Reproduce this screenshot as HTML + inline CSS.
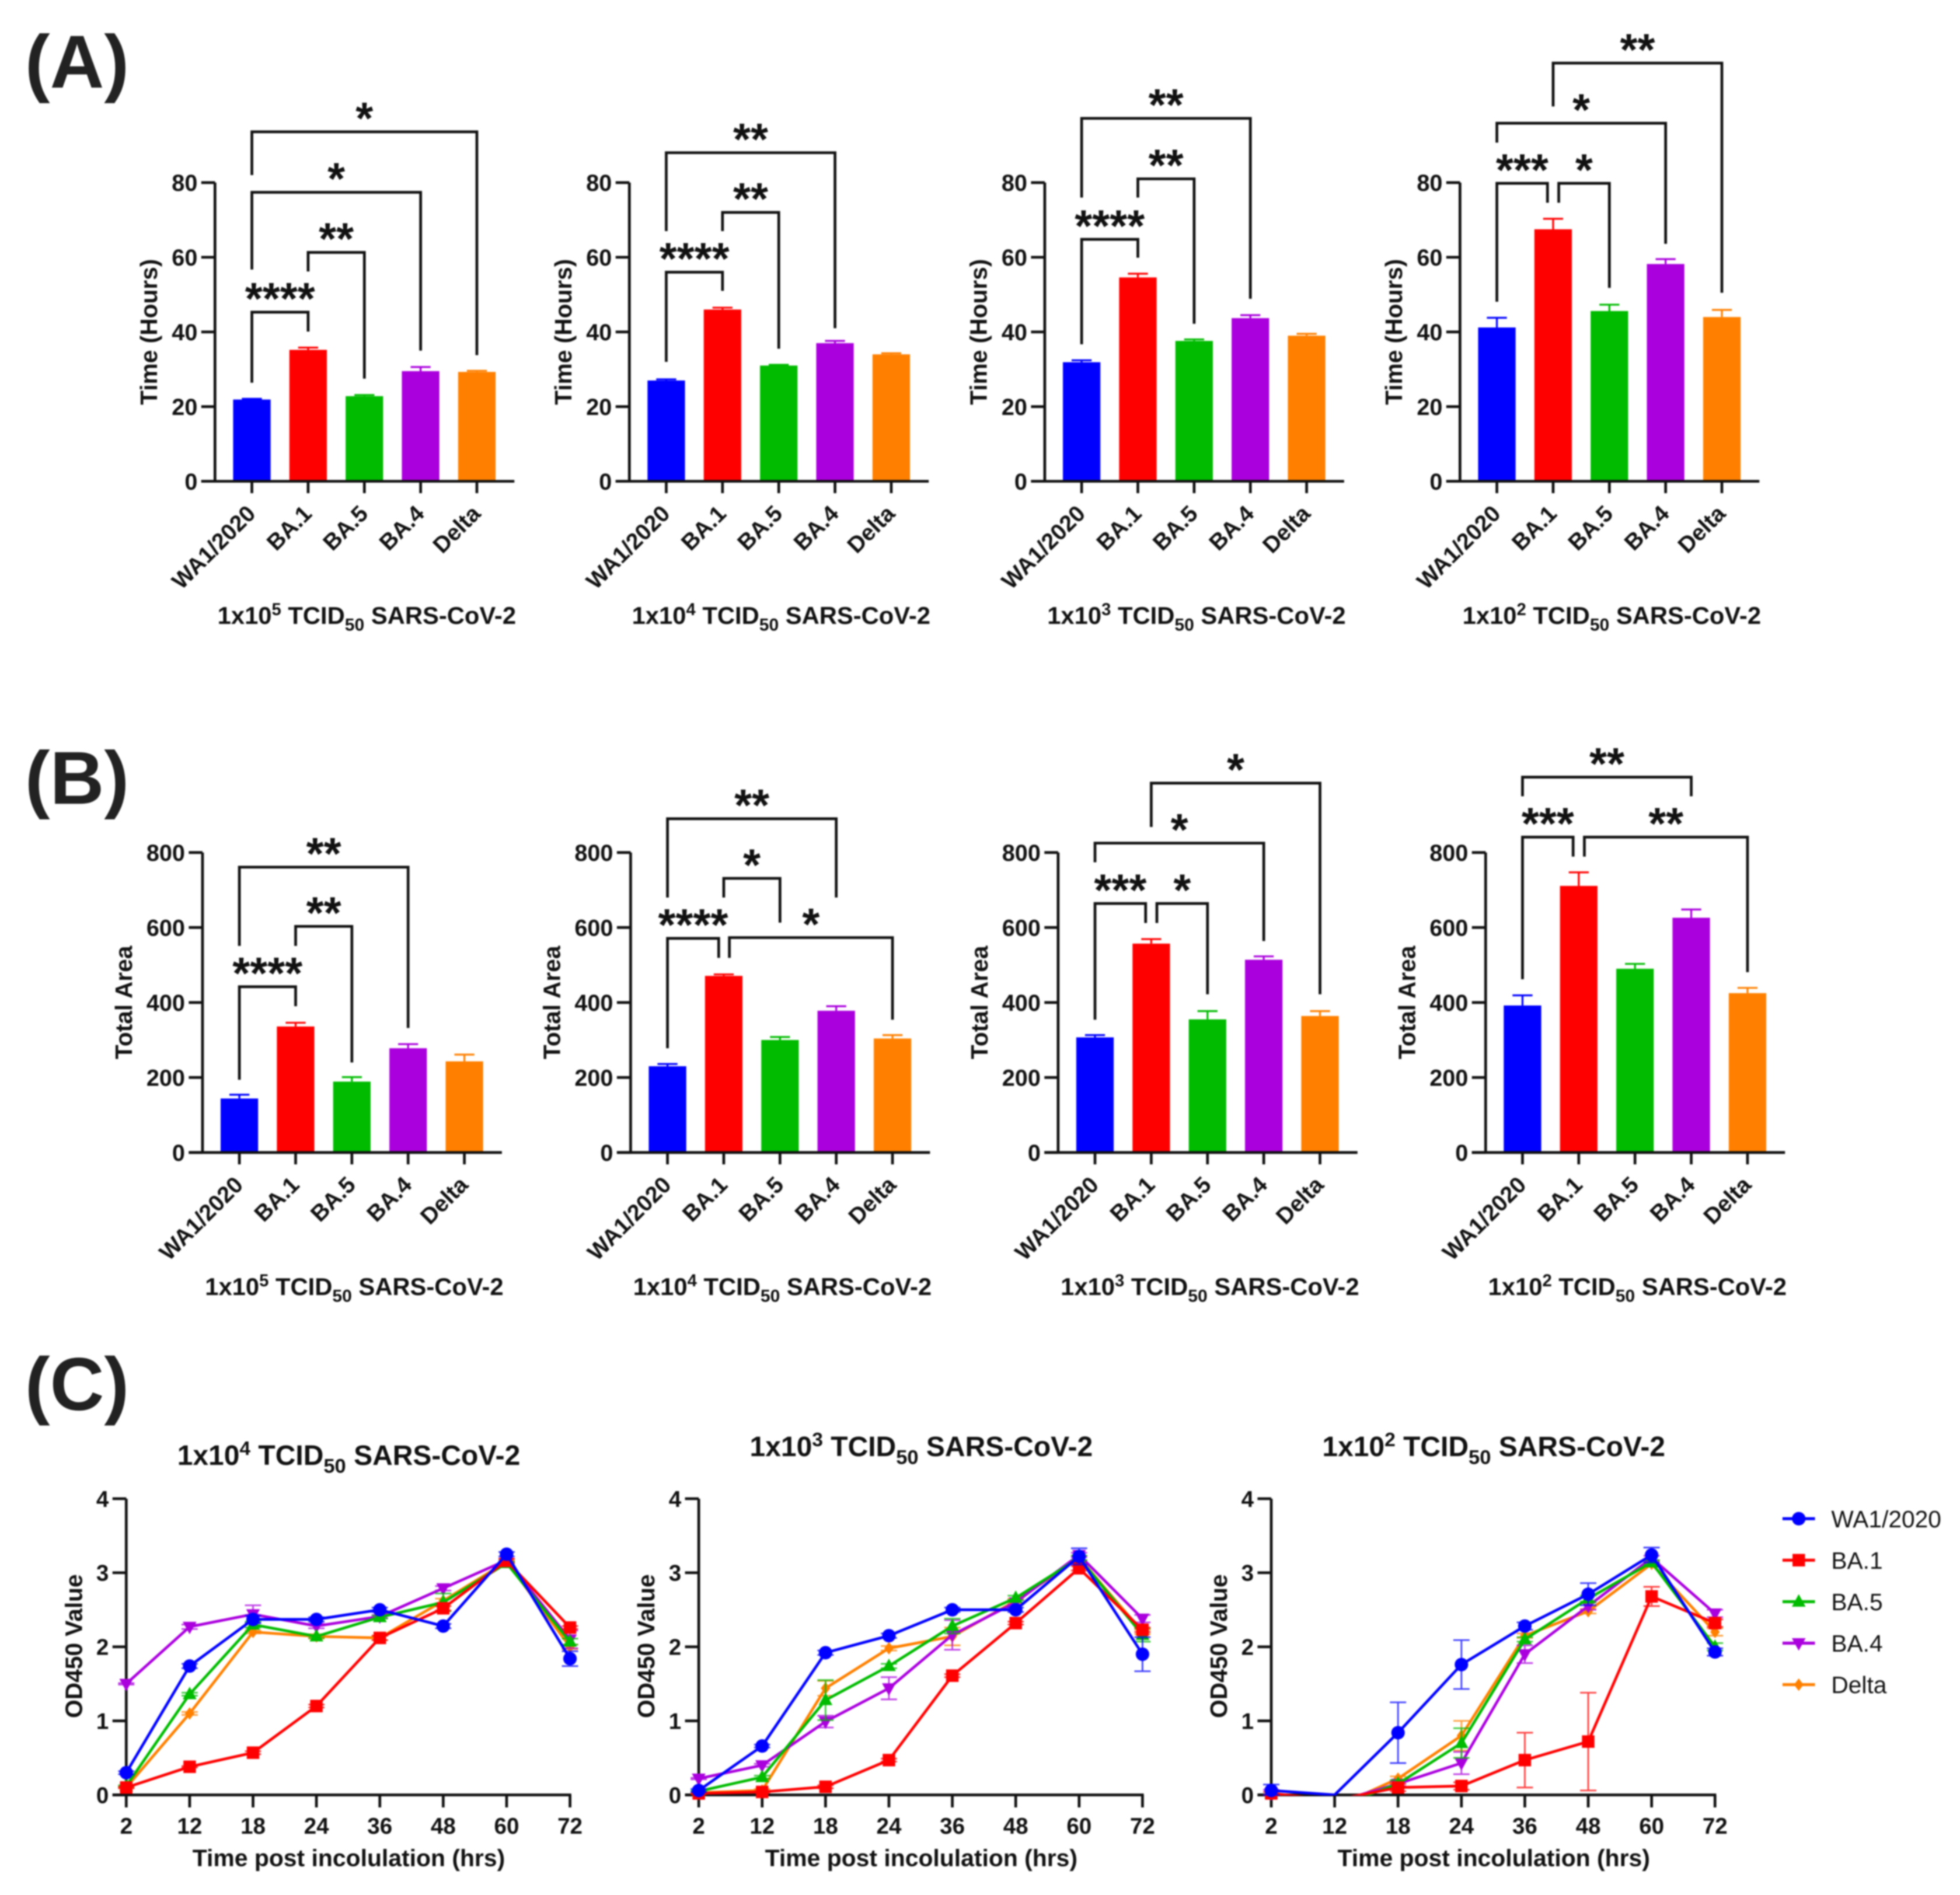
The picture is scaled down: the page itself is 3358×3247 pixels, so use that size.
<!DOCTYPE html>
<html lang="en">
<head>
<meta charset="utf-8">
<title>SARS-CoV-2 variant comparison figure</title>
<style>
html,body{margin:0;padding:0;background:#fff;width:3358px;height:3247px;overflow:hidden}
svg{display:block;filter:blur(1.3px)}
text{font-family:"Liberation Sans",Arial,sans-serif;fill:#111}
</style>
</head>
<body>
<svg id="figure" xmlns="http://www.w3.org/2000/svg" width="3358" height="3247" viewBox="0 0 1568 1516">
  <rect x="0" y="0" width="1568" height="1516" fill="#fff"/>
  <text x="20" y="70" font-size="60" font-weight="700" fill="#222" style="fill:#222">(A)</text>
  <text x="20" y="643" font-size="60" font-weight="700" fill="#222" style="fill:#222">(B)</text>
  <text x="20" y="1128" font-size="60" font-weight="700" fill="#222" style="fill:#222">(C)</text>
</svg>
<script>
// ---------- categories and tick labels ----------
const variantNames = ['WA1/2020', 'BA.1', 'BA.5', 'BA.4', 'Delta'];
const timeLabels = ['2', '12', '18', '24', '36', '48', '60', '72'];
const hoursTicks = [0, 20, 40, 60, 80];
const areaTicks = [0, 200, 400, 600, 800];
const odTicks = [0, 1, 2, 3, 4];

// ---------- panel A: time (hours) ----------
const a1Values = [21.9, 35.2, 22.8, 29.5, 29.3];
const a1Errors = [0.2, 0.6, 0.3, 1.1, 0.3];
const a2Values = [27, 46, 31, 37, 34];
const a2Errors = [0.3, 0.5, 0.2, 0.6, 0.3];
const a3Values = [31.9, 54.6, 37.6, 43.7, 39];
const a3Errors = [0.5, 1, 0.4, 0.8, 0.5];
const a4Values = [41.2, 67.5, 45.6, 58.2, 44];
const a4Errors = [2.6, 2.8, 1.7, 1.3, 1.9];

// ---------- panel B: total area ----------
const b1Values = [144, 336, 189, 278, 243];
const b1Errors = [10, 10, 12, 11, 18];
const b2Values = [230, 471, 300, 378, 304];
const b2Errors = [6, 4, 8, 12, 9];
const b3Values = [307, 557, 355, 514, 364];
const b3Errors = [6, 12, 22, 9, 13];
const b4Values = [392, 711, 490, 626, 425];
const b4Errors = [27, 36, 13, 22, 14];

// ---------- significance brackets: from-bar, to-bar, top, left foot, right foot (axis values), stars ----------
const a1Brackets = [[0,1,45.3,26.4,40.1,'****'],[1,2,61.3,56.2,27.5,'**'],[0,3,77.4,56.7,35,'*'],[0,4,93.6,82,33.8,'*']];
const a2Brackets = [[0,1,56,32,51,'****'],[1,2,72,67,35.5,'**'],[0,3,88,67,41,'**']];
const a3Brackets = [[0,1,64.8,36.7,59.9,'****'],[1,2,81,76,42.2,'**'],[0,3,97.2,76,48.9,'**']];
const a4Brackets = [[0,0.9,79.8,48.1,74.6,'***'],[1.1,2,79.8,74.6,51.8,'*'],[0,3,95.9,90.7,63.6,'*'],[1,4,112,100.4,50.5,'**']];
const b1Brackets = [[0,1,442,194,390,'****'],[1,2,603,551,240,'**'],[0,3,761,551,332,'**']];
const b2Brackets = [[0,0.91,571,278,519,'****'],[1,2,731,680,613,'*'],[1.1,4,573,519,354,'*'],[0,3,890,680,680,'**']];
const b3Brackets = [[0,0.9,664,354,612,'***'],[1.1,2,664,612,422,'*'],[0,3,825,774,564,'*'],[1,4,985,868,422,'*']];
const b4Brackets = [[0,0.9,841,462,789,'***'],[1.1,4,841,789,481,'**'],[0,3,1001,950,950,'**']];

// ---------- panel C: OD450 series ----------
const c1Wa1 = [0.3, 1.74, 2.37, 2.37, 2.5, 2.28, 3.25, 1.84];
const c1Ba1 = [0.1, 0.38, 0.57, 1.2, 2.12, 2.52, 3.16, 2.26];
const c1Ba5 = [0.12, 1.36, 2.3, 2.14, 2.4, 2.6, 3.13, 2.07];
const c1Ba4 = [1.5, 2.27, 2.44, 2.28, 2.41, 2.79, 3.17, 2.1];
const c1Delta = [0.1, 1.1, 2.2, 2.14, 2.12, 2.62, 3.15, 2.0];
const c1Wa1Err = [0.02, 0.03, 0.05, 0.03, 0.03, 0.03, 0.03, 0.1];
const c1Ba1Err = [0.01, 0.01, 0.02, 0.02, 0.03, 0.03, 0.03, 0.02];
const c1Ba5Err = [0.01, 0.02, 0.04, 0.02, 0.02, 0.12, 0.02, 0.04];
const c1Ba4Err = [0.01, 0.03, 0.12, 0.03, 0.02, 0.03, 0.02, 0.12];
const c1DeltaErr = [0.01, 0.02, 0.02, 0.03, 0.03, 0.03, 0.02, 0.03];

const c2Wa1 = [0.06, 0.66, 1.92, 2.15, 2.5, 2.5, 3.22, 1.9];
const c2Ba1 = [0.02, 0.04, 0.11, 0.47, 1.61, 2.32, 3.06, 2.23];
const c2Ba5 = [0.05, 0.24, 1.28, 1.74, 2.28, 2.66, 3.2, 2.16];
const c2Ba4 = [0.22, 0.4, 0.99, 1.44, 2.16, 2.6, 3.24, 2.38];
const c2Delta = [0.03, 0.06, 1.44, 1.98, 2.14, 2.62, 3.2, 2.2];
const c2Wa1Err = [0.02, 0.02, 0.03, 0.03, 0.03, 0.03, 0.11, 0.23];
const c2Ba1Err = [0.01, 0.01, 0.02, 0.02, 0.02, 0.02, 0.03, 0.03];
const c2Ba5Err = [0.01, 0.02, 0.27, 0.03, 0.1, 0.03, 0.03, 0.09];
const c2Ba4Err = [0.01, 0.02, 0.08, 0.15, 0.2, 0.03, 0.03, 0.05];
const c2DeltaErr = [0.01, 0.02, 0.1, 0.03, 0.12, 0.03, 0.03, 0.03];

const c3Wa1 = [0.06, 0, 0.84, 1.76, 2.28, 2.71, 3.24, 1.93];
const c3Ba1 = [0.02, -0.07, 0.1, 0.12, 0.47, 0.72, 2.68, 2.32];
const c3Ba5 = [0.02, -0.17, 0.15, 0.7, 2.1, 2.65, 3.14, 2.0];
const c3Ba4 = [0.02, -0.1, 0.15, 0.43, 1.9, 2.55, 3.2, 2.45];
const c3Delta = [0.02, -0.17, 0.22, 0.8, 2.15, 2.48, 3.12, 2.2];
const c3Wa1Err = [0.08, 0, 0.41, 0.33, 0.05, 0.15, 0.1, 0.05];
const c3Ba1Err = [0.02, 0, 0.05, 0.05, 0.37, 0.66, 0.13, 0.05];
const c3Ba5Err = [0, 0, 0.05, 0.2, 0.03, 0.04, 0.03, 0.05];
const c3Ba4Err = [0.05, 0, 0.03, 0.15, 0.12, 0.05, 0.03, 0.05];
const c3DeltaErr = [0, 0, 0.03, 0.2, 0.03, 0.03, 0.03, 0.05];

const seriesColors = ['#0000ff', '#ff0000', '#00bb00', '#aa00dd', '#ff8000'];
const seriesSlugs = ['wa1', 'ba1', 'ba5', 'ba4', 'delta'];

const NS = 'http://www.w3.org/2000/svg';
const root = document.getElementById('figure');
const INK = '#111';

function mk(tag, attrs, parent) {
  const el = document.createElementNS(NS, tag);
  for (const k in attrs) el.setAttribute(k, attrs[k]);
  parent.appendChild(el);
  return el;
}

function titleText(parent, x, y, size, exponent, anchor) {
  const t = mk('text', {x: x, y: y, 'font-size': size, 'font-weight': 700, 'text-anchor': anchor}, parent);
  const parts = [['1x10', 0, 1], [exponent, -0.36, 0.7], [' TCID', 0.36, 1], ['50', 0.28, 0.72], [' SARS-CoV-2', -0.28, 1]];
  parts.forEach(function (p) {
    const s = mk('tspan', {dy: (p[1] * size).toFixed(2), 'font-size': (p[2] * size).toFixed(2)}, t);
    s.setAttribute('xml:space', 'preserve');
    s.style.whiteSpace = 'pre';
    s.textContent = p[0];
  });
  return t;
}

function barChart(id, cfg) {
  const g = mk('g', {}, root);
  
  
  const xBar = function (i) { return cfg.first + i * 45; };
  const yVal = function (v) { return cfg.y0 - v / cfg.max * cfg.height; };
  const axisX = cfg.first - 29.5;
  const right = xBar(4) + 30;

  const ya = mk('line', {x1: axisX, x2: axisX, y1: yVal(cfg.max), y2: cfg.y0 + 1, stroke: INK, 'stroke-width': 2.2}, g);
  
  

  cfg.ticks.forEach(function (v) {
    const tk = mk('line', {x1: axisX - 11, x2: axisX, y1: yVal(v), y2: yVal(v), stroke: INK, 'stroke-width': 2.2}, g);
    
    
    const lb = mk('text', {x: axisX - 14, y: yVal(v) + 6.6, 'font-size': 18.5, 'font-weight': 700, 'text-anchor': 'end'}, g);
    
    
    lb.textContent = v;
  });

  cfg.values.forEach(function (v, i) {
    const cx = xBar(i);
    const c = seriesColors[i];
    const top = yVal(v + cfg.errors[i]);
    const er = mk('path', {d: 'M' + cx + ' ' + yVal(v) + 'V' + top + 'M' + (cx - 8) + ' ' + top + 'H' + (cx + 8), stroke: c, 'stroke-width': 1.5, fill: 'none'}, g);
    
    
    const r = mk('rect', {x: cx - 15, y: yVal(v), width: 30, height: cfg.y0 - yVal(v), fill: c}, g);
    
    
    const tk = mk('line', {x1: cx, x2: cx, y1: cfg.y0, y2: cfg.y0 + 9.5, stroke: INK, 'stroke-width': 2.2}, g);
    
    
    const px = cx + 4, py = cfg.y0 + 27;
    const lb = mk('text', {x: px, y: py, 'font-size': 18.3, 'font-weight': 700, 'text-anchor': 'end', transform: 'rotate(-45 ' + px + ' ' + py + ')'}, g);
    
    
    lb.textContent = variantNames[i];
  });

  const xa = mk('line', {x1: axisX - 11, x2: right, y1: cfg.y0, y2: cfg.y0, stroke: INK, 'stroke-width': 2.2}, g);
  
  

  const mid = yVal(cfg.max / 2);
  const ytx = axisX - cfg.titleGap;
  const yt = mk('text', {x: ytx, y: mid, 'font-size': 19, 'font-weight': 700, 'text-anchor': 'middle', transform: 'rotate(-90 ' + ytx + ' ' + mid + ')', 'dominant-baseline': 'central'}, g);
  
  
  yt.textContent = cfg.yTitle;

  const st = titleText(g, cfg.first - 27.5, cfg.y0 + 114, 19.5, cfg.exponent, 'start');
  
  

  cfg.brackets.forEach(function (b) {
    const xl = xBar(b[0]), xr = xBar(b[1]), yt2 = yVal(b[2]);
    const br = mk('path', {d: 'M' + xl + ' ' + yVal(b[3]) + 'V' + yt2 + 'H' + xr + 'V' + yVal(b[4]), stroke: INK, 'stroke-width': 2.2, fill: 'none'}, g);
    
    
    const sl = mk('text', {x: (xl + xr) / 2, y: yt2 + 1.5, 'font-size': 36, 'font-weight': 700, 'text-anchor': 'middle'}, g);
    
    
    sl.textContent = b[5];
  });
}

function markerAt(parent, i, x, y) {
  let m;
  if (i === 0) m = mk('circle', {cx: x, cy: y, r: 5.4}, parent);
  else if (i === 1) m = mk('rect', {x: x - 5, y: y - 5, width: 10, height: 10}, parent);
  else if (i === 2) m = mk('path', {d: 'M' + x + ' ' + (y - 6) + 'l5.5 10h-11z'}, parent);
  else if (i === 3) m = mk('path', {d: 'M' + x + ' ' + (y + 6) + 'l5.5 -10h-11z'}, parent);
  else m = mk('path', {d: 'M' + x + ' ' + (y - 5) + 'l3.8 5l-3.8 5l-3.8 -5z'}, parent);
  m.setAttribute('fill', seriesColors[i]);
  return m;
}

function lineChart(id, cfg) {
  const g = mk('g', {}, root);
  
  
  const step = 355 / 7;
  const xT = function (i) { return cfg.left + i * step; };
  const yV = function (v) { return 1436 - v * (237 / 4); };

  const clipId = id + '-clip';
  const defs = mk('defs', {}, g);
  const cp = mk('clipPath', {id: clipId}, defs);
  mk('rect', {x: cfg.left - 20, y: 1180, width: 400, height: 256.5}, cp);

  const ya = mk('line', {x1: cfg.left, x2: cfg.left, y1: yV(4), y2: 1436, stroke: INK, 'stroke-width': 2.2}, g);
  
  
  const xa = mk('line', {x1: cfg.left - 11, x2: xT(7) + 1, y1: 1436, y2: 1436, stroke: INK, 'stroke-width': 2.2}, g);
  
  

  odTicks.forEach(function (v) {
    const tk = mk('line', {x1: cfg.left - 11, x2: cfg.left, y1: yV(v), y2: yV(v), stroke: INK, 'stroke-width': 2.2}, g);
    
    
    const lb = mk('text', {x: cfg.left - 14, y: yV(v) + 6.5, 'font-size': 18, 'font-weight': 700, 'text-anchor': 'end'}, g);
    
    
    lb.textContent = v;
  });

  timeLabels.forEach(function (t, i) {
    const tk = mk('line', {x1: xT(i), x2: xT(i), y1: 1436, y2: 1446, stroke: INK, 'stroke-width': 2.2}, g);
    
    
    const lb = mk('text', {x: xT(i), y: 1467, 'font-size': 18, 'font-weight': 700, 'text-anchor': 'middle'}, g);
    
    
    lb.textContent = t;
  });

  [4, 3, 2, 1, 0].forEach(function (s) {
    const vals = cfg.series[s], errs = cfg.errors[s], col = seriesColors[s];
    vals.forEach(function (v, i) {
      if (errs[i] <= 0) return;
      const cx = xT(i), hi = yV(v + errs[i]), lo = yV(Math.max(0, v - errs[i]));
      const er = mk('path', {d: 'M' + cx + ' ' + hi + 'V' + lo + 'M' + (cx - 6.5) + ' ' + hi + 'h13M' + (cx - 6.5) + ' ' + lo + 'h13', stroke: col, 'stroke-width': 1.3, 'stroke-opacity': 0.75, fill: 'none'}, g);
      
      
    });
    const ln = mk('polyline', {points: vals.map(function (v, i) { return xT(i) + ',' + yV(v); }).join(' '), fill: 'none', stroke: col, 'stroke-width': 2.2, 'stroke-linejoin': 'round', 'clip-path': 'url(#' + clipId + ')'}, g);
    
    
    vals.forEach(function (v, i) {
      if (v <= 0) return;
      const m = markerAt(g, s, xT(i), yV(v));
      
      
    });
  });

  const ytx = cfg.left - 42;
  const yt = mk('text', {x: ytx, y: 1317, 'font-size': 19, 'font-weight': 700, 'text-anchor': 'middle', 'dominant-baseline': 'central', transform: 'rotate(-90 ' + ytx + ' 1317)'}, g);
  
  
  yt.textContent = 'OD450 Value';

  const xt = mk('text', {x: cfg.left + 178, y: 1493, 'font-size': 19.1, 'font-weight': 700, 'text-anchor': 'middle'}, g);
  
  
  xt.textContent = 'Time post incolulation (hrs)';

  const tt = titleText(g, cfg.left + 178, cfg.titleY, 22.4, cfg.exponent, 'middle');
  
  
}

barChart('a1', {first: 201.5, y0: 385, height: 239, max: 80, ticks: hoursTicks, values: a1Values, errors: a1Errors, brackets: a1Brackets, exponent: '5', yTitle: 'Time (Hours)', titleGap: 53});
barChart('a2', {first: 533, y0: 385, height: 239, max: 80, ticks: hoursTicks, values: a2Values, errors: a2Errors, brackets: a2Brackets, exponent: '4', yTitle: 'Time (Hours)', titleGap: 53});
barChart('a3', {first: 865.3, y0: 385, height: 239, max: 80, ticks: hoursTicks, values: a3Values, errors: a3Errors, brackets: a3Brackets, exponent: '3', yTitle: 'Time (Hours)', titleGap: 53});
barChart('a4', {first: 1197.5, y0: 385, height: 239, max: 80, ticks: hoursTicks, values: a4Values, errors: a4Errors, brackets: a4Brackets, exponent: '2', yTitle: 'Time (Hours)', titleGap: 53});

barChart('b1', {first: 191.5, y0: 922, height: 240, max: 800, ticks: areaTicks, values: b1Values, errors: b1Errors, brackets: b1Brackets, exponent: '5', yTitle: 'Total Area', titleGap: 63});
barChart('b2', {first: 534, y0: 922, height: 240, max: 800, ticks: areaTicks, values: b2Values, errors: b2Errors, brackets: b2Brackets, exponent: '4', yTitle: 'Total Area', titleGap: 63});
barChart('b3', {first: 876, y0: 922, height: 240, max: 800, ticks: areaTicks, values: b3Values, errors: b3Errors, brackets: b3Brackets, exponent: '3', yTitle: 'Total Area', titleGap: 63});
barChart('b4', {first: 1218, y0: 922, height: 240, max: 800, ticks: areaTicks, values: b4Values, errors: b4Errors, brackets: b4Brackets, exponent: '2', yTitle: 'Total Area', titleGap: 63});

lineChart('c1', {left: 101, titleY: 1172, exponent: '4', series: [c1Wa1, c1Ba1, c1Ba5, c1Ba4, c1Delta], errors: [c1Wa1Err, c1Ba1Err, c1Ba5Err, c1Ba4Err, c1DeltaErr]});
lineChart('c2', {left: 559, titleY: 1165, exponent: '3', series: [c2Wa1, c2Ba1, c2Ba5, c2Ba4, c2Delta], errors: [c2Wa1Err, c2Ba1Err, c2Ba5Err, c2Ba4Err, c2DeltaErr]});
lineChart('c3', {left: 1017, titleY: 1165, exponent: '2', series: [c3Wa1, c3Ba1, c3Ba5, c3Ba4, c3Delta], errors: [c3Wa1Err, c3Ba1Err, c3Ba5Err, c3Ba4Err, c3DeltaErr]});

// legend
const legend = mk('g', {}, root);


variantNames.forEach(function (name, i) {
  const ly = 1215 + i * 33.2;
  const ll = mk('line', {x1: 1426, x2: 1452, y1: ly, y2: ly, stroke: seriesColors[i], 'stroke-width': 2.4}, legend);
  
  
  const lm = markerAt(legend, i, 1439, ly);
  
  
  const lt = mk('text', {x: 1465, y: ly + 6.8, 'font-size': 19}, legend);
  
  
  lt.textContent = name;
});
</script>
</body>
</html>
